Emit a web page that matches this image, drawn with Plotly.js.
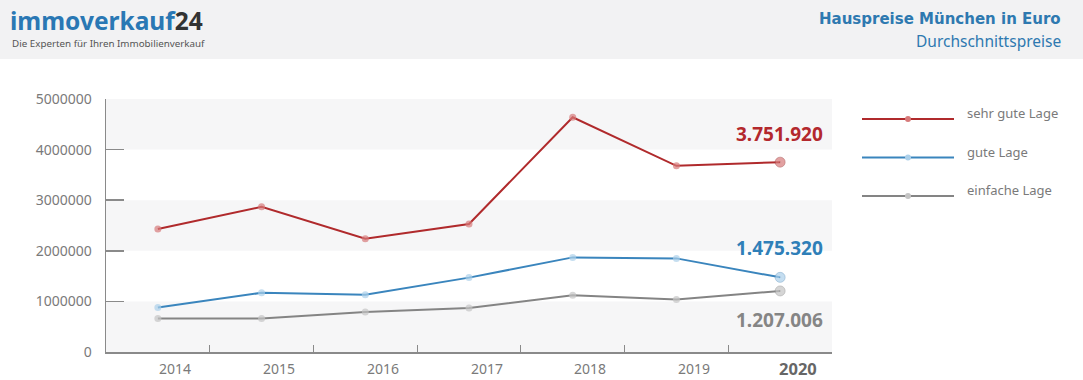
<!DOCTYPE html>
<html>
<head>
<meta charset="utf-8">
<script src="https://cdn.plot.ly/plotly-3.0.1.min.js"></script>
<style>html,body{margin:0;padding:0;background:#fff;}#chart{width:1083px;height:380px;}</style>
</head>
<body>
<div id="chart"></div>
<script>
// ---- data ----
const years = ['2014','2015','2016','2017','2018','2019','2020'];
const sehrGuteLage = [2430000, 2870000, 2240000, 2530000, 4640000, 3680000, 3751920];
const guteLage = [880000, 1170000, 1130000, 1470000, 1870000, 1850000, 1475320];
const einfacheLage = [660000, 660000, 790000, 870000, 1120000, 1040000, 1207006];
const seriesNames = ['sehr gute Lage', 'gute Lage', 'einfache Lage'];
const yTicks = [0, 1000000, 2000000, 3000000, 4000000, 5000000];
const lastLabels = ['3.751.920', '1.475.320', '1.207.006'];

// ---- layout geometry (pixels) ----
const W = 1083, H = 380;
const L = 106, R = 832, T = 99, B = 352;
const pw = R - L, ph = B - T;
const px = x => (x - L) / pw;
const py = y => (B - y) / ph;

const lineCols = ['#b02a2c', '#3a85bd', '#848484'];
const markCols = ['#d77a7a', '#acd0ea', '#c4c4c4'];
const dotCols = ['#9a3a3a', '#5f93bd', '#8a8a8a'];
const labelCols = ['#b3282d', '#2f7fb8', '#858585'];
const FONT = 'Noto Sans, Open Sans, sans-serif';

const allSeries = [sehrGuteLage, guteLage, einfacheLage];
const xs = years.map((_, i) => i);
const n = years.length;

const traces = allSeries.map((vals, k) => ({
  type: 'scatter', mode: 'lines+markers',
  x: xs, y: vals, name: seriesNames[k],
  line: {color: lineCols[k], width: 2},
  marker: {
    color: markCols[k],
    size: xs.map(i => i === n - 1 ? 10 : 7),
    symbol: xs.map(i => i === n - 1 ? 'circle-dot' : 'circle'),
    line: {color: xs.map(i => i === n - 1 ? dotCols[k] : markCols[k]), width: xs.map(i => i === n - 1 ? 0.6 : 0)}
  },
  showlegend: false, hoverinfo: 'skip'
}));

const shapes = [];
// header band
shapes.push({type: 'rect', xref: 'paper', yref: 'paper', x0: px(0), x1: px(W), y0: py(59), y1: py(0),
  fillcolor: '#f2f2f3', line: {width: 0}, layer: 'below'});
// alternating bands
for (let i = 0; i < yTicks.length - 1; i += 2) {
  shapes.push({type: 'rect', xref: 'paper', yref: 'y', x0: 0, x1: 1, y0: yTicks[i], y1: yTicks[i + 1],
    fillcolor: '#f6f6f7', line: {width: 0}, layer: 'below'});
}
// custom legend
const legY = [119, 157.5, 196];
const legTextY = [113, 151.5, 189.5];
const annotations = [];
seriesNames.forEach((nm, k) => {
  shapes.push({type: 'line', xref: 'paper', yref: 'paper', x0: px(862), x1: px(954), y0: py(legY[k]), y1: py(legY[k]),
    line: {color: lineCols[k], width: 2}});
  shapes.push({type: 'circle', xref: 'paper', yref: 'paper', x0: px(905), x1: px(911), y0: py(legY[k] + 3), y1: py(legY[k] - 3),
    fillcolor: markCols[k], line: {width: 0}});
  annotations.push({xref: 'paper', yref: 'paper', x: px(965), y: py(legTextY[k]), xanchor: 'left', yanchor: 'middle',
    text: nm, showarrow: false, font: {family: FONT, size: 13, color: '#7a7a7a'}});
});
// last value labels
const lastLabelY = [134, 248, 320];
lastLabels.forEach((t, k) => {
  annotations.push({xref: 'paper', yref: 'paper', x: px(825), y: py(lastLabelY[k]), xanchor: 'right', yanchor: 'middle',
    text: '<b>' + t + '</b>', showarrow: false, font: {family: FONT, size: 19, color: labelCols[k]}});
});
// year labels (offset right of category centre)
years.forEach((yr, i) => {
  const last = i === n - 1;
  annotations.push({xref: 'x', yref: 'paper', x: i + 0.17, y: py(368), xanchor: 'center', yanchor: 'middle',
    text: last ? '<b>' + yr + '</b>' : yr, showarrow: false,
    font: {family: FONT, size: last ? 16.5 : 14, color: last ? '#666' : '#7a7a7a'}});
});
// header texts
annotations.push({xref: 'paper', yref: 'paper', x: px(8), y: py(20), xanchor: 'left', yanchor: 'middle',
  text: '<b><span style="color:#2a78b4">immoverkauf</span><span style="color:#333333">24</span></b>', showarrow: false,
  font: {family: 'Noto Sans, sans-serif', size: 24.5, color: '#2a78b4'}});
annotations.push({xref: 'paper', yref: 'paper', x: px(10), y: py(43.5), xanchor: 'left', yanchor: 'middle',
  text: 'Die Experten für Ihren Immobilienverkauf', showarrow: false,
  font: {family: FONT, size: 9.8, color: '#555'}});
annotations.push({xref: 'paper', yref: 'paper', x: px(1063), y: py(19), xanchor: 'right', yanchor: 'middle',
  text: '<b>Hauspreise München in Euro</b>', showarrow: false,
  font: {family: 'DejaVu Sans, sans-serif', size: 15, color: '#2e79b0'}});
annotations.push({xref: 'paper', yref: 'paper', x: px(1063), y: py(41), xanchor: 'right', yanchor: 'middle',
  text: 'Durchschnittspreise', showarrow: false,
  font: {family: FONT, size: 15.5, color: '#2e79b0'}});

const layout = {
  width: W, height: H,
  margin: {l: L, r: W - R, t: T, b: H - B, pad: 0},
  paper_bgcolor: '#ffffff', plot_bgcolor: 'rgba(0,0,0,0)',
  showlegend: false,
  xaxis: {
    range: [-0.5, n - 0.5], tickvals: xs.map(i => i + 0.5), showticklabels: false,
    ticks: 'inside', ticklen: 7, tickcolor: '#8a8a8a', tickwidth: 1,
    showline: true, linecolor: '#8a8a8a', linewidth: 1.5, showgrid: false, zeroline: false, fixedrange: true
  },
  yaxis: {
    range: [0, 5000000], tickvals: yTicks, ticktext: yTicks.map(v => String(v)),
    ticks: 'inside', ticklen: 18, tickcolor: '#8a8a8a', tickwidth: 1.5,
    ticklabelstandoff: 10,
    showline: true, linecolor: '#8a8a8a', linewidth: 1.5, showgrid: false, zeroline: false,
    tickfont: {family: FONT, size: 14, color: '#7a7a7a'}, fixedrange: true
  },
  shapes: shapes,
  annotations: annotations
};

Plotly.newPlot('chart', traces, layout, {displayModeBar: false, staticPlot: true});
</script>
</body>
</html>
